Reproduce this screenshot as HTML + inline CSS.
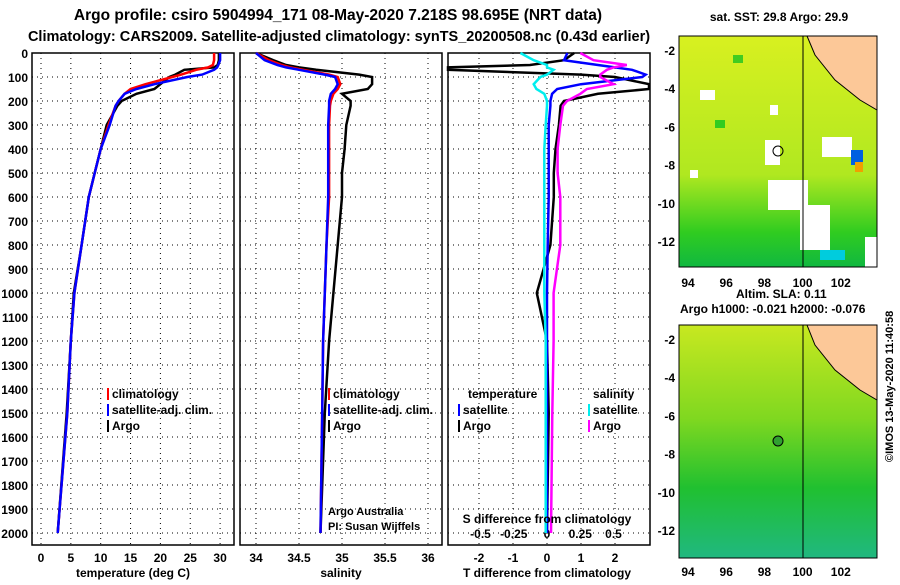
<!DOCTYPE html>
<html><head><meta charset="utf-8">
<style>
body{margin:0;background:#fff;width:900px;height:580px;overflow:hidden;font-family:"Liberation Sans",sans-serif}
svg text{font-family:"Liberation Sans",sans-serif;font-weight:bold}
</style></head><body>
<svg id="c" width="900" height="580" xmlns="http://www.w3.org/2000/svg">
<defs>
<linearGradient id="g1" x1="0" y1="0" x2="0" y2="1"><stop offset="0" stop-color="#d8f020"/><stop offset="0.6" stop-color="#b0e820"/><stop offset="0.85" stop-color="#30cc20"/><stop offset="1" stop-color="#10b840"/></linearGradient>
<linearGradient id="g2" x1="0" y1="0" x2="0" y2="1"><stop offset="0" stop-color="#c8e820"/><stop offset="0.4" stop-color="#80d820"/><stop offset="0.7" stop-color="#20c030"/><stop offset="1" stop-color="#20b880"/></linearGradient>
</defs>
<text x="338" y="20" font-size="15.5" text-anchor="middle">Argo profile: csiro 5904994_171 08-May-2020 7.218S 98.695E (NRT data)</text>
<text x="339" y="41" font-size="14.5" text-anchor="middle">Climatology: CARS2009. Satellite-adjusted climatology: synTS_20200508.nc (0.43d earlier)</text>
<g id="panels"></g>
<text x="779" y="21" font-size="12" text-anchor="middle">sat. SST: 29.8 Argo: 29.9</text>
<text x="736" y="298" font-size="12">Altim. SLA: 0.11</text>
<text x="680" y="313" font-size="12">Argo h1000: -0.021 h2000: -0.076</text>
<g>
<rect x="679" y="36" width="198" height="231" fill="url(#g1)"/>
<rect x="768" y="180" width="40" height="30" fill="#fff"/><rect x="800" y="205" width="30" height="45" fill="#fff"/><rect x="765" y="140" width="15" height="25" fill="#fff"/><rect x="700" y="90" width="15" height="10" fill="#fff"/><rect x="822" y="137" width="30" height="20" fill="#fff"/><rect x="820" y="250" width="25" height="10" fill="#0cd"/><rect x="851" y="150" width="12" height="15" fill="#0060e0"/><rect x="855" y="162" width="8" height="10" fill="#f0a000"/><rect x="865" y="237" width="12" height="30" fill="#fff"/>
<rect x="715" y="120" width="10" height="8" fill="#30cc20"/><rect x="690" y="170" width="8" height="8" fill="#fff"/><rect x="770" y="105" width="8" height="10" fill="#fff"/><rect x="733" y="55" width="10" height="8" fill="#40cc20"/>
<polygon points="807,36 877,36 877,110 860,100 835,80 815,55" fill="#fcc898" stroke="#000" stroke-width="1"/>
<line x1="803" y1="36" x2="803" y2="267" stroke="#000"/>
<circle cx="778" cy="151" r="5" fill="none" stroke="#000"/>
</g>
<g>
<rect x="679" y="325" width="198" height="233" fill="url(#g2)"/>
<polygon points="807,325 877,325 877,400 860,390 835,370 815,345" fill="#fcc898" stroke="#000" stroke-width="1"/>
<line x1="803" y1="325" x2="803" y2="558" stroke="#000"/>
<circle cx="778" cy="441" r="5" fill="#30a030" stroke="#000"/>
</g>
<text transform="translate(893,462) rotate(-90)" font-size="11" font-weight="normal">©IMOS 13-May-2020 11:40:58</text>
</svg>
<script>
const depths=[0,30,50,60,70,90,100,130,150,170,200,220,300,400,500,600,800,1000,1200,1500,2000];
const tArgo=[29.8,29.8,29.6,29,24,22.5,21.5,20,19,16,13.5,12.8,11,10,9,8,6.8,5.5,5,4.3,2.8];
const tClim=[29,29,28.8,28,26,23.5,22,17.5,15,14,13,12.5,11.3,10,9,8,6.8,5.6,5,4.4,2.8];
const tSat=[30,30,29.7,29.5,29,27,24.5,19,16,14,13,12.5,11.5,10,9,8,6.8,5.6,5,4.4,2.8];
const sArgo=[34.0,34.2,34.35,34.5,34.7,35.2,35.35,35.35,35.3,35.0,35.1,35.1,35.05,35.03,35.0,35.0,34.95,34.9,34.85,34.8,34.75];
const sClim=[34.0,34.15,34.3,34.4,34.55,34.85,34.95,34.98,34.95,34.9,34.87,34.86,34.85,34.85,34.85,34.85,34.82,34.8,34.78,34.77,34.75];
const sSat=[34.0,34.1,34.25,34.35,34.5,34.8,34.92,34.95,34.92,34.87,34.85,34.85,34.84,34.84,34.84,34.84,34.82,34.8,34.78,34.77,34.75];
const tdArgo=[0.8,0.5,-0.5,-3,-3,1,2,3,3,1.5,0.5,0.4,0.35,0.25,0.2,0.2,0.1,-0.3,0,0.05,0];
const tdSat=[0.6,0.5,1.5,2,2.5,2.9,2.8,1,0.3,0.15,0.1,0.1,0.05,0.05,0.05,0.05,0.02,0,0,0,0];
const sdSat=[-0.2,-0.1,0,0,0.05,0,-0.05,-0.1,-0.08,-0.02,0,0,-0.01,-0.02,-0.02,-0.02,-0.02,-0.02,-0.01,-0.01,-0.01];
const sdArgo=[0.25,0.35,0.6,0.5,0.45,0.4,0.4,0.5,0.3,0.25,0.15,0.12,0.1,0.08,0.08,0.1,0.1,0.05,0.05,0.04,0.03];
const depthTicks=[0,100,200,300,400,500,600,700,800,900,1000,1100,1200,1300,1400,1500,1600,1700,1800,1900,2000];
const tTicks=[0,5,10,15,20,25,30];
const sTicks=[34,34.5,35,35.5,36];
const sTickLabels=["34","34.5","35","35.5","36"];
const tdTicks=[-2,-1,0,1,2];
const sdTicks=[-0.5,-0.25,0,0.25,0.5];
const sdTickLabels=["-0.5","-0.25","0","0.25","0.5"];
const NS='http://www.w3.org/2000/svg';
const G=document.getElementById('panels');
const yD=d=>53+d*0.24;
function el(t,a,p){const e=document.createElementNS(NS,t);for(const k in a)e.setAttribute(k,a[k]);(p||G).appendChild(e);return e;}
function frame(x0,x1,name){
  const g=el('g',{});
  
  
  el('rect',{x:x0,y:53,width:x1-x0,height:492,fill:'none',stroke:'#000','stroke-width':1.5},g);
  depthTicks.forEach(d=>{el('line',{x1:x0,x2:x1,y1:yD(d),y2:yD(d),stroke:'#000','stroke-dasharray':'1,4'},g);});
  return g;
}
function line(g,xs,xf,color,name,x0,x1){
  const pts=depths.map((d,i)=>Math.max(x0,Math.min(x1,xf(xs[i]))).toFixed(1)+','+yD(d).toFixed(1)).join(' ');
  const p=el('polyline',{points:pts,fill:'none',stroke:color,'stroke-width':2.5},g);
  
  
}
const xT=v=>41+v*5.97;
let g=frame(32,234,'temperature-panel');
tTicks.forEach(v=>{el('line',{x1:xT(v),x2:xT(v),y1:53,y2:545,stroke:'#000','stroke-dasharray':'1,4'},g);const t=el('text',{x:xT(v),y:562,'font-size':12,'text-anchor':'middle'},g);t.textContent=v;});
depthTicks.forEach(d=>{const t=el('text',{x:28,y:yD(d)+5,'font-size':12,'text-anchor':'end'},g);t.textContent=d;});
line(g,tArgo,xT,'#000','temp-argo-line',32,234);line(g,tClim,xT,'#f00','temp-clim-line',32,234);line(g,tSat,xT,'#00f','temp-sat-line',32,234);
let t=el('text',{x:133,y:577,'font-size':12,'text-anchor':'middle'},g);t.textContent='temperature (deg C)';
const xS=v=>256+(v-34)*86;
g=frame(240,442,'salinity-panel');
sTicks.forEach((v,i)=>{el('line',{x1:xS(v),x2:xS(v),y1:53,y2:545,stroke:'#000','stroke-dasharray':'1,4'},g);const t=el('text',{x:xS(v),y:562,'font-size':12,'text-anchor':'middle'},g);t.textContent=sTickLabels[i];});
line(g,sArgo,xS,'#000','sal-argo-line',240,442);line(g,sClim,xS,'#f00','sal-clim-line',240,442);line(g,sSat,xS,'#00f','sal-sat-line',240,442);
t=el('text',{x:341,y:577,'font-size':12,'text-anchor':'middle'},g);t.textContent='salinity';
t=el('text',{x:328,y:515,'font-size':11,'font-weight':'normal'},g);t.textContent='Argo Australia';
t=el('text',{x:328,y:530,'font-size':11,'font-weight':'normal'},g);t.textContent='PI: Susan Wijffels';
const xTD=v=>547+v*34, xSD=v=>547+v*133;
g=frame(448,650,'difference-panel');
tdTicks.forEach(v=>{el('line',{x1:xTD(v),x2:xTD(v),y1:53,y2:545,stroke:'#000','stroke-dasharray':'1,4'},g);const t=el('text',{x:xTD(v),y:562,'font-size':12,'text-anchor':'middle'},g);t.textContent=v;});
sdTicks.forEach((v,i)=>{const t=el('text',{x:xSD(v),y:538,'font-size':12,'text-anchor':'middle'},g);t.textContent=sdTickLabels[i];});
line(g,tdArgo,xTD,'#000','tdiff-argo-line',448,650);line(g,tdSat,xTD,'#00f','tdiff-sat-line',448,650);
line(g,sdSat,xSD,'#0ee','sdiff-sat-line',448,650);line(g,sdArgo,xSD,'#f0f','sdiff-argo-line',448,650);
t=el('text',{x:547,y:523,'font-size':12,'text-anchor':'middle'},g);t.textContent='S difference from climatology';
t=el('text',{x:547,y:577,'font-size':12,'text-anchor':'middle'},g);t.textContent='T difference from climatology';
function leg(x,y,c,txt,name){const lg=el('g',{});el('rect',{x:x,y:y-10,width:2,height:12,fill:c},lg);const t=el('text',{x:x+5,y:y,'font-size':12},lg);t.textContent=txt;}
leg(107,398,'#f00','climatology','legend-clim-temp');leg(107,414,'#00f','satellite-adj. clim.','legend-sat-temp');leg(107,430,'#000','Argo','legend-argo-temp');
leg(328,398,'#f00','climatology','legend-clim-sal');leg(328,414,'#00f','satellite-adj. clim.','legend-sat-sal');leg(328,430,'#000','Argo','legend-argo-sal');
t=el('text',{x:468,y:398,'font-size':12});t.textContent='temperature';
t=el('text',{x:593,y:398,'font-size':12});t.textContent='salinity';
leg(458,414,'#00f','satellite','legend-tdiff-sat');leg(458,430,'#000','Argo','legend-tdiff-argo');
leg(588,414,'#0ee','satellite','legend-sdiff-sat');leg(588,430,'#f0f','Argo','legend-sdiff-argo');
const lonTicks=[94,96,98,100,102], latTicks=[-2,-4,-6,-8,-10,-12];
const svg=document.getElementById('c');
[[36,267],[325,558]].forEach(([y0,y1],k)=>{
  const mg=el('g',{},svg);
  
  
  el('rect',{x:679,y:y0,width:198,height:y1-y0,fill:'none',stroke:'#000'},mg);
  lonTicks.forEach(v=>{const x=688+(v-94)*19.1;const t=el('text',{x:x,y:k?576:287,'font-size':12,'text-anchor':'middle'},mg);t.textContent=v;});
  latTicks.forEach(v=>{const y=y0+14+(-2-v)*19.1;const t=el('text',{x:675,y:y+5,'font-size':12,'text-anchor':'end'},mg);t.textContent=v;});
});
</script>
</body></html>
